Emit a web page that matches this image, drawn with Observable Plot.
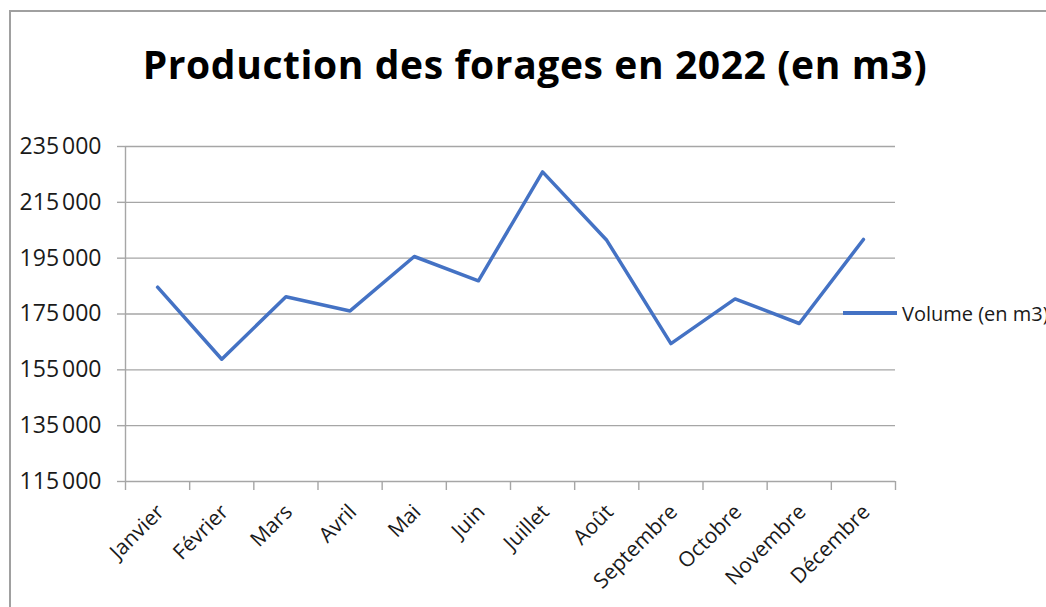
<!DOCTYPE html>
<html>
<head>
<meta charset="utf-8">
<script src="https://cdn.jsdelivr.net/npm/d3@7"></script>
<script src="https://cdn.jsdelivr.net/npm/@observablehq/plot@0.6"></script>
<style>
  html, body { margin: 0; padding: 0; background: white; overflow: hidden; }
  #page { position: relative; width: 1046px; height: 607px; overflow: hidden; background: white; }
  #frame { position: absolute; left: 9px; top: 10px; width: 1200px; height: 800px;
           border-left: 2px solid #a0a0a0; border-top: 2px solid #a0a0a0; pointer-events: none; }
  #title { position: relative; height: 120px; width: 1070px; text-align: center;
           font-family: "Open Sans", sans-serif; font-weight: 700; font-size: 39px;
           line-height: 39px; box-sizing: border-box; color: #000; }
  #title span { position: absolute; left: 0; right: 0; top: 44px; letter-spacing: 0.6px; }
  #legend { position: absolute; left: 843px; top: 299px; height: 28px; display: flex; align-items: center;
            font-family: "Open Sans", sans-serif; font-size: 20px; color: #1a1a1a; white-space: nowrap; }
  #legend .swatch { width: 54px; height: 3.5px; background: #4472C4; margin-right: 5px; }
  #chart svg { display: block; }
  #chart svg g[aria-label="y-axis tick label"] text { letter-spacing: 2.6px; }
</style>
</head>
<body>
<div id="page">
  <div id="title"><span>Production des forages en 2022 (en m3)</span></div>
  <div id="chart"></div>
  <div id="legend"><div class="swatch"></div><span id="legendText"></span></div>
  <div id="frame"></div>
</div>
<script>
const months = ["Janvier", "Février", "Mars", "Avril", "Mai", "Juin", "Juillet", "Août", "Septembre", "Octobre", "Novembre", "Décembre"];
const volumes = [184600, 158800, 181200, 176100, 195600, 186900, 225900, 201400, 164400, 180400, 171600, 201700];
const yTicks = [115000, 135000, 155000, 175000, 195000, 215000, 235000];
const seriesName = "Volume (en m3)";

document.getElementById("legendText").textContent = seriesName;

const data = months.map((m, i) => ({pos: i + 0.5, month: m, volume: volumes[i]}));
const boundaries = d3.range(months.length + 1);
const fmt = d => d3.format(",")(d).replace(/,/g, "\u202F");
const gridColor = "#a6a6a6";

const chart = Plot.plot({
  width: 1046,
  height: 487,
  marginLeft: 125,
  marginRight: 151,
  marginTop: 26,
  marginBottom: 126,
  x: {type: "linear", domain: [0, months.length], axis: null, label: null},
  y: {domain: [115000, 235000], axis: null, label: null},
  style: {fontFamily: "'Open Sans', sans-serif", fontSize: "20px", color: "#1a1a1a", background: "white"},
  marks: [
    Plot.gridY(yTicks, {stroke: gridColor, strokeOpacity: 1, strokeWidth: 1.4}),
    Plot.ruleX([0], {stroke: gridColor, strokeWidth: 1.4}),
    Plot.axisY(yTicks, {label: null, tickSize: 8, tickPadding: 16, tickFormat: fmt, stroke: gridColor, strokeWidth: 1.4, fill: "#1a1a1a", fontSize: 23}),
    Plot.axisX(boundaries, {label: null, tickSize: 9, tickFormat: () => "", stroke: gridColor, strokeWidth: 1.4}),
    Plot.axisX(data.map(d => d.pos), {label: null, tickSize: 0, tickPadding: 27, dx: 3, tickRotate: -45, tickFormat: d => months[Math.floor(d)], fill: "#1a1a1a", fontSize: 21}),
    Plot.line(data, {x: "pos", y: "volume", stroke: "#4472C4", strokeWidth: 3.5, strokeLinejoin: "round", strokeLinecap: "round"})
  ]
});
document.getElementById("chart").appendChild(chart);
</script>
</body>
</html>
